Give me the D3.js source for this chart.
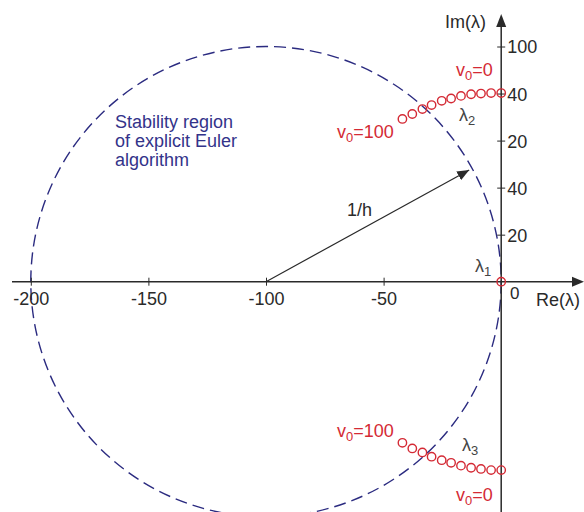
<!DOCTYPE html>
<html>
<head>
<meta charset="utf-8">
<script src="https://cdn.jsdelivr.net/npm/d3@7"></script>
<style>
  body { margin: 0; background: #fff; }
  text { font-family: "Liberation Sans", Arial, sans-serif; }
</style>
</head>
<body>
<div class="chart"></div>
<script>
// chart data
var xTickValues = [-200, -150, -100, -50];
var xTickLabels = ["-200", "-150", "-100", "-50"];
var yTickValues = [20, 40, 60, 80, 100];
var yTickLabels = ["20", "40", "20", "40", "100"];

// eigenvalue paths for v0 = 100 ... 0
var lambda2Re = [-42, -37.8, -33.5, -29.6, -25.3, -21.3, -17.1, -12.8, -8.6, -4.3, 0];
var lambda2Im = [69.2, 71.3, 73.4, 75.1, 76.9, 77.9, 79.0, 79.7, 80.0, 80.2, 80.2];
var lambda3Re = [-42, -37.8, -33.5, -29.6, -25.3, -21.3, -17.1, -12.8, -8.6, -4.3, 0];
var lambda3Im = [-68.5, -70.9, -72.6, -74.4, -75.9, -77.0, -78.2, -79.1, -79.6, -80.1, -80.1];
var lambda1 = [0, 0];

var circleCenter = [-100, 0], circleRadius = 100;
var arrowEnd = [-13.6, 47.5];

var width = 584, height = 512;
var red = "#d42a35", navy = "#2b2b80", ink = "#2a2a2a";

var svg = d3.select(".chart").append("svg")
    .attr("width", width)
    .attr("height", height);

var x = d3.scaleLinear().domain([-200, 0]).range([30.8, 501.2]);
var y = d3.scaleLinear().domain([0, 100]).range([281.7, 46.5]);

var defs = svg.append("defs");
defs.append("marker")
    .attr("id", "arr")
    .attr("viewBox", "0 0 12 10")
    .attr("refX", 12).attr("refY", 5)
    .attr("markerWidth", 12).attr("markerHeight", 10)
    .attr("markerUnits", "userSpaceOnUse")
    .attr("orient", "auto")
    .append("path").attr("d", "M0,0L12,5L0,10Z").attr("fill", ink);

// stability circle
svg.append("circle")
    .attr("cx", x(circleCenter[0]))
    .attr("cy", y(circleCenter[1]))
    .attr("r", x(circleCenter[0] + circleRadius) - x(circleCenter[0]))
    .attr("fill", "none")
    .attr("stroke", navy)
    .attr("stroke-width", 1.4)
    .attr("stroke-dasharray", "12,6");

// x axis
var xAxis = svg.append("g")
    .attr("transform", "translate(0," + y(0) + ")")
    .call(d3.axisBottom(x).tickValues(xTickValues).tickSize(4)
        .tickFormat(function(d, i) { return xTickLabels[i]; }));
xAxis.select(".domain").remove();
xAxis.selectAll(".tick line").attr("y1", -4).attr("stroke", ink);
xAxis.selectAll(".tick text")
    .attr("y", 23).attr("dy", null)
    .attr("font-size", 18).attr("fill", ink)
    .style("font-family", "Liberation Sans, Arial, sans-serif");
xAxis.append("line")
    .attr("x1", 12).attr("x2", 574)
    .attr("stroke", ink).attr("stroke-width", 1.5);
xAxis.append("path").attr("d", "M584,0L572,-5L572,5Z").attr("fill", ink);

// y axis
var yAxis = svg.append("g")
    .attr("transform", "translate(" + x(0) + ",0)")
    .call(d3.axisRight(y).tickValues(yTickValues).tickSize(4)
        .tickFormat(function(d, i) { return yTickLabels[i]; }));
yAxis.select(".domain").remove();
yAxis.selectAll(".tick line").attr("x1", -4).attr("stroke", ink);
yAxis.selectAll(".tick text")
    .attr("x", 6).attr("dy", "0.36em")
    .attr("font-size", 18).attr("fill", ink)
    .style("font-family", "Liberation Sans, Arial, sans-serif");
yAxis.append("line")
    .attr("y1", 512).attr("y2", 26)
    .attr("stroke", ink).attr("stroke-width", 1.5);
yAxis.append("path").attr("d", "M0,14L-5,27L5,27Z").attr("fill", ink);

// radius arrow
svg.append("line")
    .attr("x1", x(circleCenter[0])).attr("y1", y(circleCenter[1]))
    .attr("x2", x(arrowEnd[0])).attr("y2", y(arrowEnd[1]))
    .attr("stroke", ink).attr("stroke-width", 1.2)
    .attr("marker-end", "url(#arr)");

// eigenvalue points
function drawPoints(re, im) {
  svg.append("g").selectAll("circle")
      .data(re.map(function(d, i) { return [d, im[i]]; }))
      .enter().append("circle")
      .attr("cx", function(d) { return x(d[0]); })
      .attr("cy", function(d) { return y(d[1]); })
      .attr("r", 4.2)
      .attr("fill", "none")
      .attr("stroke", red)
      .attr("stroke-width", 1.4);
}
drawPoints(lambda2Re, lambda2Im);
drawPoints(lambda3Re, lambda3Im);
drawPoints([lambda1[0]], [lambda1[1]]);

// labels
function label(px, py, main, sub, rest, color, size) {
  var t = svg.append("text")
      .attr("x", px).attr("y", py)
      .attr("font-size", size || 18)
      .attr("fill", color);
  t.append("tspan").text(main);
  if (sub) t.append("tspan").attr("font-size", (size || 18) * 0.72).attr("dy", 4).text(sub);
  if (rest) t.append("tspan").attr("dy", -4).text(rest);
  return t;
}

label(445, 28, "Im(λ)", null, null, ink);
label(536, 306, "Re(λ)", null, null, ink);
label(510, 299, "0", null, null, ink, 17);

label(456, 76, "v", "0", "=0", red);
label(337, 138, "v", "0", "=100", red);
label(337, 437, "v", "0", "=100", red);
label(456, 501, "v", "0", "=0", red);

label(459, 121, "λ", "2", null, "#444");
label(462, 451, "λ", "3", null, "#444");
label(475, 272, "λ", "1", null, "#444");

label(347, 216, "1/h", null, null, ink);

var note = svg.append("text")
    .attr("x", 115).attr("y", 128)
    .attr("font-size", 18)
    .attr("fill", "#33338a");
["Stability region", "of explicit Euler", "algorithm"].forEach(function(s, i) {
  note.append("tspan").attr("x", 115).attr("dy", i ? 19 : 0).text(s);
});
</script>
</body>
</html>
